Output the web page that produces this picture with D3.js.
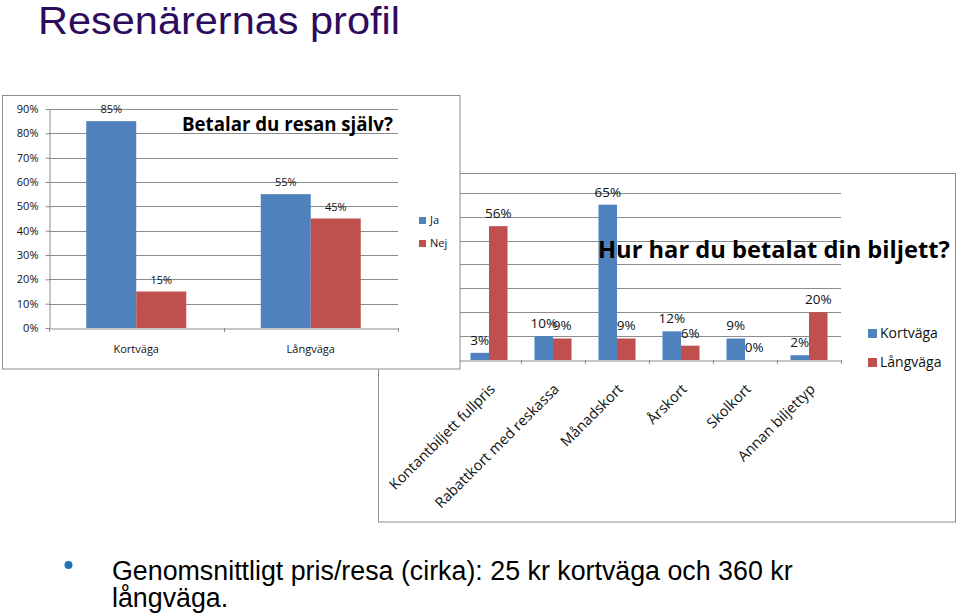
<!DOCTYPE html>
<html><head><meta charset="utf-8">
<script src="https://cdn.jsdelivr.net/npm/d3@7"></script>
<style>body{margin:0;background:#fff;} svg{display:block}</style>
</head><body>
<svg id="c" width="960" height="616"></svg>
<script>
const pageTitle = "Resenärernas profil";
const bulletLines = ["Genomsnittligt pris/resa (cirka): 25 kr kortväga och 360 kr", "långväga."];

const payCategories = ["Kortväga", "Långväga"];
const paySeries = ["Ja", "Nej"];
const payJa = [85, 55];
const payNej = [15, 45];
const payTicks = [0, 10, 20, 30, 40, 50, 60, 70, 80, 90];
const payTitle = "Betalar du resan själv?";

const ticketCategories = ["Kontantbiljett fullpris", "Rabattkort med reskassa", "Månadskort", "Årskort", "Skolkort", "Annan biljettyp"];
const ticketSeries = ["Kortväga", "Långväga"];
const ticketKort = [3, 10, 65, 12, 9, 2];
const ticketLang = [56, 9, 9, 6, 0, 20];
const ticketTicks = [0, 10, 20, 30, 40, 50, 60, 70];
const ticketTitle = "Hur har du betalat din biljett?";

const BLUE = "#4F81BD", RED = "#C0504D", GRID = "#8c8c8c", BORDER = "#8c8c8c";
const FONT = "'Open Sans', sans-serif";
const SANS = "'Liberation Sans', Arial, sans-serif";
const colors = [BLUE, RED];

const svg = d3.select("#c");

function fitX(g, textSel, x, target) {
  const w = textSel.node().getComputedTextLength();
  g.attr("transform", `translate(${x},0) scale(${target / w},1)`);
}

// ---------- Page title ----------
const ptg = svg.append("g");
const pt = ptg.append("text").attr("x", 0).attr("y", 34)
  .attr("font-family", SANS).attr("font-size", 39).attr("fill", "#2C0C5C")
  .text(pageTitle);
fitX(ptg, pt, 38, 362);

// ---------- Chart 2 (behind) ----------
const c2 = svg.append("g");
c2.append("rect").attr("x", 378.5).attr("y", 173.5).attr("width", 577).attr("height", 348.5)
  .attr("fill", "#fff").attr("stroke", BORDER);

const x2 = d3.scaleBand().domain(ticketCategories).range([457, 841])
  .paddingInner(1 - 37 / 64).paddingOuter((1 - 37 / 64) / 2);
const xs2 = d3.scaleBand().domain(ticketSeries).range([0, x2.bandwidth()]);
const y2 = d3.scaleLinear().domain([0, 70]).range([360, 192.7]);

c2.append("g").selectAll("line").data(ticketTicks.filter(d => d > 0)).join("line")
  .attr("x1", 457).attr("x2", 841)
  .attr("y1", d => Math.round(y2(d)) + 0.5).attr("y2", d => Math.round(y2(d)) + 0.5)
  .attr("stroke", GRID);

const ticketData = ticketSeries.map((s, i) => ({ series: s, values: i ? ticketLang : ticketKort }));
const g2 = c2.append("g");
ticketData.forEach((sd, si) => {
  g2.append("g").selectAll("rect").data(sd.values).join("rect")
    .attr("x", (d, i) => x2(ticketCategories[i]) + xs2(sd.series))
    .attr("y", d => y2(d))
    .attr("width", xs2.bandwidth())
    .attr("height", d => y2(0) - y2(d))
    .attr("fill", colors[si]);
});

// x axis
const ax2 = c2.append("g").attr("transform", "translate(0,360.5)")
  .call(d3.axisBottom(x2).tickSize(0).tickFormat(""));
ax2.select(".domain").attr("stroke", GRID);
c2.append("g").selectAll("line").data(d3.range(ticketCategories.length + 1)).join("line")
  .attr("x1", i => Math.round(x2.range()[0] + i * x2.step()) + 0.5)
  .attr("x2", i => Math.round(x2.range()[0] + i * x2.step()) + 0.5)
  .attr("y1", 360).attr("y2", 364).attr("stroke", GRID);

// labels
ticketData.forEach((sd, si) => {
  g2.append("g").selectAll("text").data(sd.values).join("text")
    .attr("x", (d, i) => x2(ticketCategories[i]) + xs2(sd.series) + xs2.bandwidth() / 2)
    .attr("y", d => y2(d) - 8)
    .attr("text-anchor", "middle")
    .attr("font-family", FONT).attr("font-size", 13.5).attr("fill", "#111")
    .text(d => d + "%");
});

// category labels
c2.append("g").selectAll("text").data(ticketCategories).join("text")
  .attr("transform", d => `translate(${x2(d) + x2.bandwidth() / 2 + 7},390) rotate(-45)`)
  .attr("text-anchor", "end")
  .attr("font-family", FONT).attr("font-size", 14.5).attr("fill", "#111")
  .text(d => d);

// title
const t2g = c2.append("g");
const t2 = t2g.append("text").attr("x", 0).attr("y", 258.5)
  .attr("font-family", FONT).attr("font-weight", "bold").attr("font-size", 23.5).attr("fill", "#000")
  .text(ticketTitle);
fitX(t2g, t2, 598, 352);

// legend
const lg2 = c2.append("g").selectAll("g").data(ticketSeries).join("g")
  .attr("transform", (d, i) => `translate(868,${329 + i * 29})`);
lg2.append("rect").attr("width", 9).attr("height", 9).attr("fill", (d, i) => colors[i]);
lg2.append("text").attr("x", 12).attr("y", 4.5).attr("dy", "0.35em")
  .attr("font-family", FONT).attr("font-size", 14).attr("fill", "#111").text(d => d);

// ---------- Chart 1 (front) ----------
const c1 = svg.append("g");
c1.append("rect").attr("x", 2.5).attr("y", 95.5).attr("width", 457.5).attr("height", 273.5)
  .attr("fill", "#fff").attr("stroke", BORDER);

const x1 = d3.scaleBand().domain(payCategories).range([49, 398])
  .paddingInner(1 - 100 / 174.5).paddingOuter((1 - 100 / 174.5) / 2);
const xs1 = d3.scaleBand().domain(paySeries).range([0, x1.bandwidth()]);
const y1 = d3.scaleLinear().domain([0, 90]).range([328, 109]);

// gridlines + y axis
const ay1 = c1.append("g").attr("transform", "translate(49.5,0)")
  .call(d3.axisLeft(y1).tickValues(payTicks).tickFormat(d => d + "%").tickSizeInner(4).tickSizeOuter(0).tickPadding(7));
ay1.select(".domain").attr("stroke", GRID);
ay1.selectAll(".tick line").attr("stroke", GRID);
ay1.selectAll(".tick text").attr("font-family", FONT).attr("font-size", 11).attr("fill", "#111");
c1.append("g").selectAll("line").data(payTicks.filter(d => d > 0)).join("line")
  .attr("x1", 49).attr("x2", 398)
  .attr("y1", d => Math.round(y1(d)) + 0.5).attr("y2", d => Math.round(y1(d)) + 0.5)
  .attr("stroke", GRID);

const payData = paySeries.map((s, i) => ({ series: s, values: i ? payNej : payJa }));
payData.forEach((sd, si) => {
  c1.append("g").selectAll("rect").data(sd.values).join("rect")
    .attr("x", (d, i) => x1(payCategories[i]) + xs1(sd.series))
    .attr("y", d => y1(d))
    .attr("width", xs1.bandwidth())
    .attr("height", d => y1(0) - y1(d))
    .attr("fill", colors[si]);
  c1.append("g").selectAll("text").data(sd.values).join("text")
    .attr("x", (d, i) => x1(payCategories[i]) + xs1(sd.series) + xs1.bandwidth() / 2)
    .attr("y", d => y1(d) - 8)
    .attr("text-anchor", "middle")
    .attr("font-family", FONT).attr("font-size", 11).attr("fill", "#111")
    .text(d => d + "%");
});

// x axis
const ax1 = c1.append("g").attr("transform", "translate(0,328.5)")
  .call(d3.axisBottom(x1).tickSize(0).tickFormat(""));
ax1.select(".domain").attr("stroke", GRID);
c1.append("g").selectAll("line").data(d3.range(payCategories.length + 1)).join("line")
  .attr("x1", i => Math.round(49 + i * x1.step()) + 0.5)
  .attr("x2", i => Math.round(49 + i * x1.step()) + 0.5)
  .attr("y1", 328).attr("y2", 332).attr("stroke", GRID);
c1.append("g").selectAll("text").data(payCategories).join("text")
  .attr("x", d => x1(d) + x1.bandwidth() / 2).attr("y", 353)
  .attr("text-anchor", "middle")
  .attr("font-family", FONT).attr("font-size", 11).attr("fill", "#111")
  .text(d => d);

// title
const t1g = c1.append("g");
const t1 = t1g.append("text").attr("x", 0).attr("y", 131)
  .attr("font-family", FONT).attr("font-weight", "bold").attr("font-size", 19.5).attr("fill", "#000")
  .text(payTitle);
fitX(t1g, t1, 182, 211);

// legend
const lg1 = c1.append("g").selectAll("g").data(paySeries).join("g")
  .attr("transform", (d, i) => `translate(419,${217 + i * 23})`);
lg1.append("rect").attr("width", 7).attr("height", 7).attr("fill", (d, i) => colors[i]);
lg1.append("text").attr("x", 11).attr("y", 3.5).attr("dy", "0.35em")
  .attr("font-family", FONT).attr("font-size", 11).attr("fill", "#111").text(d => d);

// ---------- Bullet text ----------
svg.append("circle").attr("cx", 68.5).attr("cy", 565).attr("r", 4).attr("fill", "#1F72B8");
const bg = svg.append("g");
const bt = bg.selectAll("text").data(bulletLines).join("text")
  .attr("x", 0).attr("y", (d, i) => 580 + i * 27)
  .attr("font-family", SANS).attr("font-size", 27).attr("fill", "#000")
  .text(d => d);
fitX(bg, bt.filter((d, i) => i === 0), 112, 681);
</script>
</body></html>
